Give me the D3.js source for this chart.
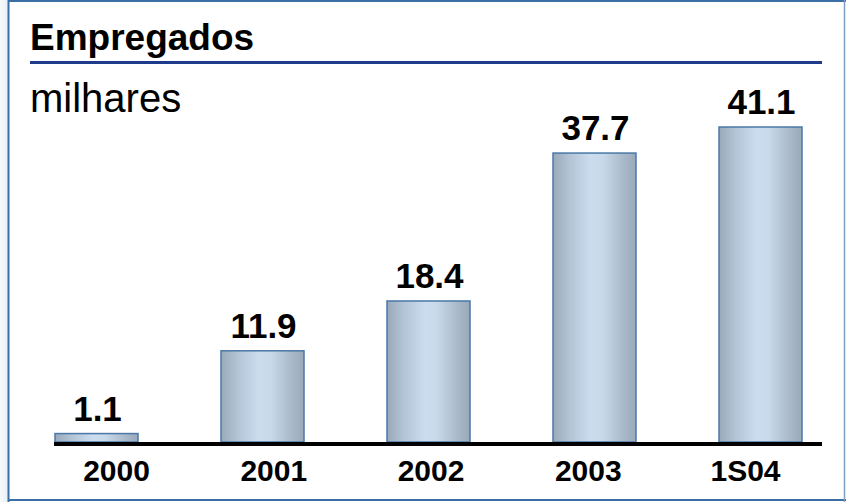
<!DOCTYPE html>
<html>
<head>
<meta charset="utf-8">
<script src="https://cdn.jsdelivr.net/npm/d3@7"></script>
<style>
  html, body { margin: 0; padding: 0; background: #ffffff; }
  svg { display: block; }
  text { font-family: "Liberation Sans", Arial, sans-serif; }
</style>
</head>
<body>
<svg id="chart" width="846" height="502"></svg>
<script>
const categories = ["2000", "2001", "2002", "2003", "1S04"];
const values = [1.1, 11.9, 18.4, 37.7, 41.1];
const valueLabels = ["1.1", "11.9", "18.4", "37.7", "41.1"];
const title = "Empregados";
const unitLabel = "milhares";

const W = 846, H = 502;
const svg = d3.select("#chart");

const defs = svg.append("defs");
const side = defs.append("linearGradient").attr("id", "side").attr("x1", "0").attr("x2", "1");
side.append("stop").attr("offset", "0").attr("stop-color", "#f6f9fc");
side.append("stop").attr("offset", "1").attr("stop-color", "#e8f0f7");
svg.append("rect").attr("x", 0).attr("y", 0).attr("width", 8).attr("height", H).attr("fill", "url(#side)");

const grad = defs.append("linearGradient").attr("id", "barGrad").attr("x1", "0").attr("x2", "1").attr("y1", "0").attr("y2", "0");
[["0", "#9aa9b9"], ["0.2", "#b3c4d6"], ["0.45", "#cadcee"], ["0.6", "#c8d9ea"], ["0.85", "#a9b9ca"], ["1", "#9aa9b9"]]
  .forEach(([o, c]) => grad.append("stop").attr("offset", o).attr("stop-color", c));

// frame
svg.append("line").attr("x1", 8).attr("x2", W).attr("y1", 1).attr("y2", 1).attr("stroke", "#3a6ea5").attr("stroke-width", 2);
svg.append("line").attr("x1", 8.5).attr("x2", 8.5).attr("y1", 0).attr("y2", H).attr("stroke", "#3a6ea5").attr("stroke-width", 2);
svg.append("line").attr("x1", 8).attr("x2", W).attr("y1", 500).attr("y2", 500).attr("stroke", "#3a6ea5").attr("stroke-width", 2);
svg.append("line").attr("x1", 844.5).attr("x2", 844.5).attr("y1", 0).attr("y2", H).attr("stroke", "#7f9ec2").attr("stroke-width", 1.5);

// title
svg.append("text").attr("x", 30).attr("y", 50).attr("font-size", 37).attr("font-weight", "bold").attr("fill", "#000").text(title);
svg.append("line").attr("x1", 30).attr("x2", 822).attr("y1", 62.5).attr("y2", 62.5).attr("stroke", "#1f3c8c").attr("stroke-width", 3);
svg.append("text").attr("x", 30).attr("y", 112).attr("font-size", 40).attr("fill", "#000").text(unitLabel);

// scales
const x = d3.scaleBand().domain(categories).range([55, 802]).paddingInner(0.5).paddingOuter(0);
const y = d3.scaleLinear().domain([0, 41.1]).range([442, 127]);
const xLabel = d3.scalePoint().domain(categories).range([116, 745]);

const data = categories.map((c, i) => ({ c, v: values[i], l: valueLabels[i] }));

svg.append("g").selectAll("rect").data(data).join("rect")
  .attr("x", d => x(d.c))
  .attr("y", d => y(d.v))
  .attr("width", x.bandwidth())
  .attr("height", d => y(0) - y(d.v))
  .attr("fill", "url(#barGrad)")
  .attr("stroke", "#4a78a8")
  .attr("stroke-width", 1.5);

// value labels
svg.append("g").selectAll("text").data(data).join("text")
  .attr("x", d => x(d.c) + x.bandwidth() / 2 + 1)
  .attr("y", d => y(d.v) - 13)
  .attr("text-anchor", "middle")
  .attr("font-size", 35)
  .attr("font-weight", "bold")
  .attr("fill", "#000")
  .text(d => d.l);

// axis baseline
svg.append("line").attr("x1", 54).attr("x2", 822).attr("y1", 444).attr("y2", 444).attr("stroke", "#000").attr("stroke-width", 4);

// category labels via axis
const axis = svg.append("g").attr("transform", "translate(0,446)")
  .call(d3.axisBottom(xLabel).tickSize(0).tickPadding(0));
axis.select(".domain").remove();
axis.selectAll("text")
  .attr("dy", null)
  .attr("y", 35)
  .attr("font-size", 30)
  .attr("font-weight", "bold")
  .attr("fill", "#000")
  .attr("font-family", "Liberation Sans, Arial, sans-serif");
</script>
</body>
</html>
